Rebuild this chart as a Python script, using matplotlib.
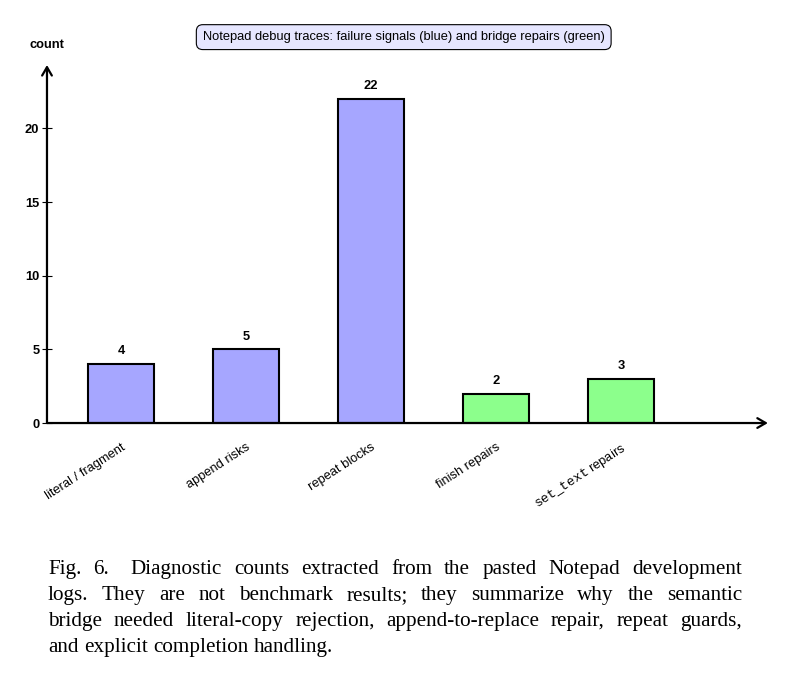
import matplotlib
matplotlib.use("Agg")
import matplotlib.pyplot as plt

categories = ["literal / fragment", "append risks", "repeat blocks",
              "finish repairs", r"$\mathtt{set\_text}$ repairs"]
counts = [4, 5, 22, 2, 3]
groups = ["failure", "failure", "failure", "repair", "repair"]
yticks = [0, 5, 10, 15, 20]

title = "Notepad debug traces: failure signals (blue) and bridge repairs (green)"
caption = [
    "Fig. 6.  Diagnostic counts extracted from the pasted Notepad development",
    "logs. They are not benchmark results; they summarize why the semantic",
    "bridge needed literal-copy rejection, append-to-replace repair, repeat guards,",
    "and explicit completion handling.",
]

colors = {"failure": "#a6a6ff", "repair": "#8cff8c"}

plt.rcParams["font.family"] = ["Liberation Sans", "DejaVu Sans"]
plt.rcParams["mathtext.fontset"] = "custom"
plt.rcParams["mathtext.tt"] = "Liberation Mono"
fs = 9.3

fig = plt.figure(figsize=(7.87, 6.75), dpi=100)
ax = fig.add_axes([0.0597, 0.3733, 0.916, 0.5304])

x = list(range(len(counts)))
ax.bar(x, counts, width=0.53, color=[colors[g] for g in groups],
       edgecolor="black", linewidth=1.5, zorder=2)
for xi, c in zip(x, counts):
    ax.text(xi, c + 0.45, str(c), ha="center", va="bottom",
            fontsize=fs, fontweight="bold")

ax.set_xlim(-0.592, 5.176)
ax.set_ylim(0, 24.3)

for s in ax.spines.values():
    s.set_visible(False)

# arrowed axes
arrow = dict(arrowstyle="->,head_length=0.6,head_width=0.35",
             lw=1.6, color="black", shrinkA=0, shrinkB=0)
ax.annotate("", xy=(0, 1), xytext=(0, 0), xycoords="axes fraction", arrowprops=arrow)
ax.annotate("", xy=(1, 0), xytext=(0, 0), xycoords="axes fraction", arrowprops=arrow)

ax.set_yticks(yticks)
ax.set_yticklabels([str(t) for t in yticks], fontsize=fs, fontweight="bold")
ax.tick_params(axis="y", direction="inout", length=7, width=0.8, pad=2)
ax.set_xticks(x)
ax.set_xticklabels(categories, rotation=33, ha="right", rotation_mode="anchor",
                   fontsize=fs)
ax.tick_params(axis="x", length=0, pad=13)

ax.text(0, 1.04, "count", transform=ax.transAxes, ha="center", va="bottom",
        fontsize=fs, fontweight="bold")

fig.text(0.513, 0.945, title, ha="center", va="center", fontsize=fs,
         bbox=dict(boxstyle="round,pad=0.5,rounding_size=0.5",
                   facecolor="#e6e6ff", edgecolor="black", linewidth=0.8))

# justified caption
renderer = fig.canvas.get_renderer()
x0, x1 = 48, 742
cap_fs = 15.2
for i, line in enumerate(caption):
    y = 675 - (574 + 26 * i)
    words = line.replace(".  ", ".\x00 ").split(" ")
    weights = []
    clean = []
    for w in words:
        if w.endswith("\x00"):
            clean.append(w[:-1])
            weights.append(1.8)
        else:
            clean.append(w)
            weights.append(1.0)
    widths = []
    for w in clean:
        t = fig.text(0, 0, w, fontsize=cap_fs, family="Liberation Serif")
        widths.append(t.get_window_extent(renderer).width)
        t.remove()
    if i < len(caption) - 1:
        gap = (x1 - x0 - sum(widths)) / sum(weights[:-1])
    else:
        gap = cap_fs * 0.25 * 100 / 72
    xp = x0
    for w, wd, wt in zip(clean, widths, weights):
        fig.text(xp / 787, y / 675, w, ha="left", va="baseline",
                 fontsize=cap_fs, family="Liberation Serif")
        xp += wd + gap * wt

fig.savefig("out.png", dpi=100)
